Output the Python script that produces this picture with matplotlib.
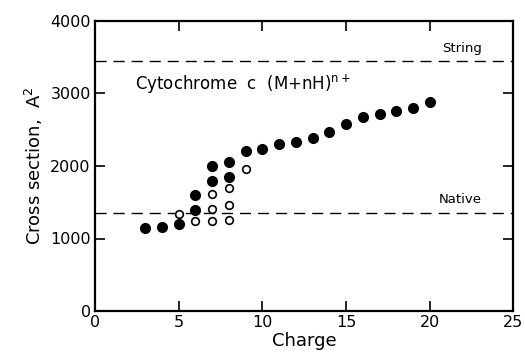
import matplotlib
matplotlib.use('Agg')
import matplotlib.pyplot as plt

# filled circles
charge_filled = [3, 4, 5, 6, 6, 7, 7, 8, 8, 9, 10, 11, 12, 13, 14, 15, 16, 17, 18, 19, 20]
cs_filled = [1144, 1153, 1194, 1602, 1394, 2005, 1787, 2060, 1843, 2213, 2227, 2301,
             2333, 2392, 2472, 2577, 2673, 2718, 2764, 2795, 2877]

# open circles
charge_open = [5, 6, 7, 7, 7, 8, 8, 8, 9]
cs_open = [1343, 1245, 1616, 1412, 1245, 1699, 1458, 1259, 1958]

string_level = 3450
native_level = 1345

plt.rcParams['font.family'] = 'DejaVu Sans'

fig = plt.figure(figsize=(5.25, 3.6), dpi=100)
ax = fig.add_axes([0.181, 0.136, 0.797, 0.806])

ax.axhline(string_level, color='black', lw=1, dashes=(8, 5))
ax.axhline(native_level, color='black', lw=1, dashes=(8, 5))

ax.plot(charge_filled, cs_filled, 'o', color='black', ms=7, zorder=3)
ax.plot(charge_open, cs_open, 'o', mfc='white', mec='black', mew=1.2, ms=5.5, zorder=3)

ax.text(2.4, 3130, r'Cytochrome  c  (M+nH)$^{\mathregular{n+}}$', fontsize=12, va='center')
ax.text(23.1, 3620, 'String', fontsize=9.5, ha='right', va='center')
ax.text(23.1, 1540, 'Native', fontsize=9.5, ha='right', va='center')

ax.set_xlim(0, 25)
ax.set_ylim(0, 4000)
ax.set_xticks([0, 5, 10, 15, 20, 25])
ax.set_yticks([0, 1000, 2000, 3000, 4000])
ax.tick_params(direction='in', length=7, width=1.2, top=True, right=True,
               labelsize=11.5, pad=3)
for s in ax.spines.values():
    s.set_linewidth(1.6)

ax.set_xlabel('Charge', fontsize=13, labelpad=1)
ax.set_ylabel(r'Cross section,  A$^{\mathregular{2}}$', fontsize=13, labelpad=4)

fig.savefig('out.png', dpi=100)
